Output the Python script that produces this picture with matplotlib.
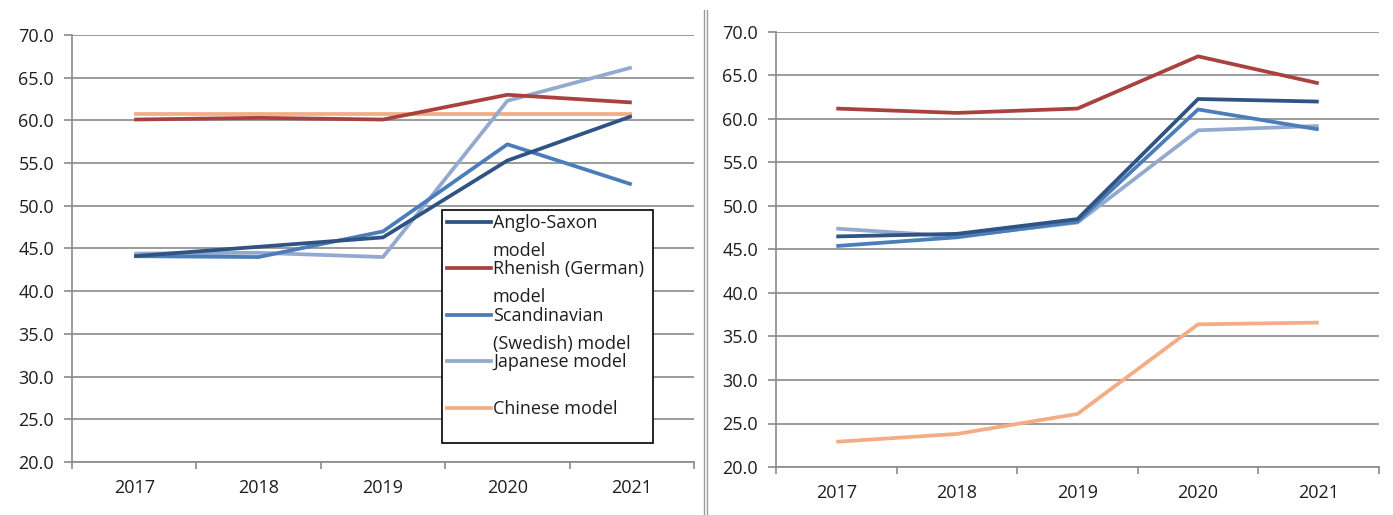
import matplotlib.pyplot as plt
from matplotlib.lines import Line2D
from matplotlib.patches import Rectangle
import numpy as np

plt.rcParams['font.family'] = ['Open Sans', 'DejaVu Sans']

years = ['2017', '2018', '2019', '2020', '2021']
models = ['Anglo-Saxon model', 'Rhenish (German) model', 'Scandinavian (Swedish) model',
          'Japanese model', 'Chinese model']
legend_labels = ['Anglo-Saxon\nmodel', 'Rhenish (German)\nmodel', 'Scandinavian\n(Swedish) model',
                 'Japanese model', 'Chinese model']
colors = ['#2F5383', '#A9423F', '#4A7DBA', '#93A9CF', '#F4AC84']

# left chart
left_anglo = [44.1, 45.2, 46.3, 55.3, 60.5]
left_rhenish = [60.1, 60.3, 60.1, 63.0, 62.1]
left_scand = [44.1, 44.0, 47.0, 57.2, 52.5]
left_japan = [44.4, 44.5, 44.0, 62.3, 66.2]
left_china = [60.8, 60.8, 60.8, 60.8, 60.8]

# right chart
right_anglo = [46.5, 46.8, 48.5, 62.3, 62.0]
right_rhenish = [61.2, 60.7, 61.2, 67.2, 64.1]
right_scand = [45.4, 46.4, 48.2, 61.1, 58.8]
right_japan = [47.4, 46.5, 48.1, 58.7, 59.2]
right_china = [22.9, 23.8, 26.1, 36.4, 36.6]

left_series = [left_anglo, left_rhenish, left_scand, left_japan, left_china]
right_series = [right_anglo, right_rhenish, right_scand, right_japan, right_china]

W, H = 1393, 515
fig = plt.figure(figsize=(W / 100, H / 100), dpi=100)

def px_axes(x0, x1, y0, y1):
    return fig.add_axes([x0 / W, 1 - y1 / H, (x1 - x0) / W, (y1 - y0) / H])

ax1 = px_axes(72, 694, 35, 462)
ax2 = px_axes(776, 1379, 32, 467)

grey = '#8A8A8A'
txt = '#1E1E1E'
fs = 13
x = np.arange(len(years))

def style(ax, series):
    # draw in reverse so the first series sits on top, like Excel
    for vals, c, name in reversed(list(zip(series, colors, models))):
        ax.plot(x, vals, color=c, lw=2.7, solid_capstyle='butt', label=name)
    ax.set_xlim(-0.5, 4.5)
    ax.set_ylim(20, 70)
    ax.set_yticks(np.arange(20, 71, 5))
    ax.set_yticklabels([f'{v:.1f}' for v in np.arange(20, 71, 5)])
    ax.set_xticks(np.arange(-0.5, 4.6, 1))
    ax.set_xticklabels([])
    ax.set_xticks(x, minor=True)
    ax.set_xticklabels(years, minor=True)
    ax.tick_params(axis='x', which='minor', length=0, pad=12, labelsize=fs, colors=txt)
    ax.tick_params(axis='x', which='major', length=5, width=1.2, color=grey)
    ax.tick_params(axis='y', length=6, width=1.2, color=grey, labelsize=fs, labelcolor=txt, pad=7)
    ax.yaxis.grid(True, color=grey, lw=1.2)
    ax.set_axisbelow(True)
    for s in ['top', 'right']:
        ax.spines[s].set_visible(False)
    for s in ['left', 'bottom']:
        ax.spines[s].set_color(grey)
        ax.spines[s].set_linewidth(1.2)

style(ax1, left_series)
style(ax2, right_series)

# legend box drawn like the Excel one
def to_ax(px, py):
    return (px - 72) / (694 - 72), (462 - py) / (462 - 35)

bx0, by0 = to_ax(442, 443)
bx1, by1 = to_ax(653, 210)
ax1.add_patch(Rectangle((bx0, by0), bx1 - bx0, by1 - by0, transform=ax1.transAxes,
                        facecolor='white', edgecolor='black', lw=1.2, zorder=5))
entry_y = [222, 268, 315, 361, 408]
for lab, c, py in zip(legend_labels, colors, entry_y):
    lx0, ly = to_ax(447, py)
    lx1, _ = to_ax(491, py)
    ax1.add_line(Line2D([lx0, lx1], [ly, ly], transform=ax1.transAxes, color=c, lw=2.7, zorder=6))
    tx, ty = to_ax(493, py - 8)
    ax1.text(tx, ty, lab, transform=ax1.transAxes, ha='left', va='top', fontsize=fs,
             color=txt, linespacing=1.75, zorder=6)

# double separator between the charts
for sx in [704, 707]:
    fig.add_artist(Line2D([sx / W, sx / W], [0, 1 - 10 / H], transform=fig.transFigure,
                          color='#9A9A9A', lw=1.0))

fig.savefig('out.png', dpi=100)
